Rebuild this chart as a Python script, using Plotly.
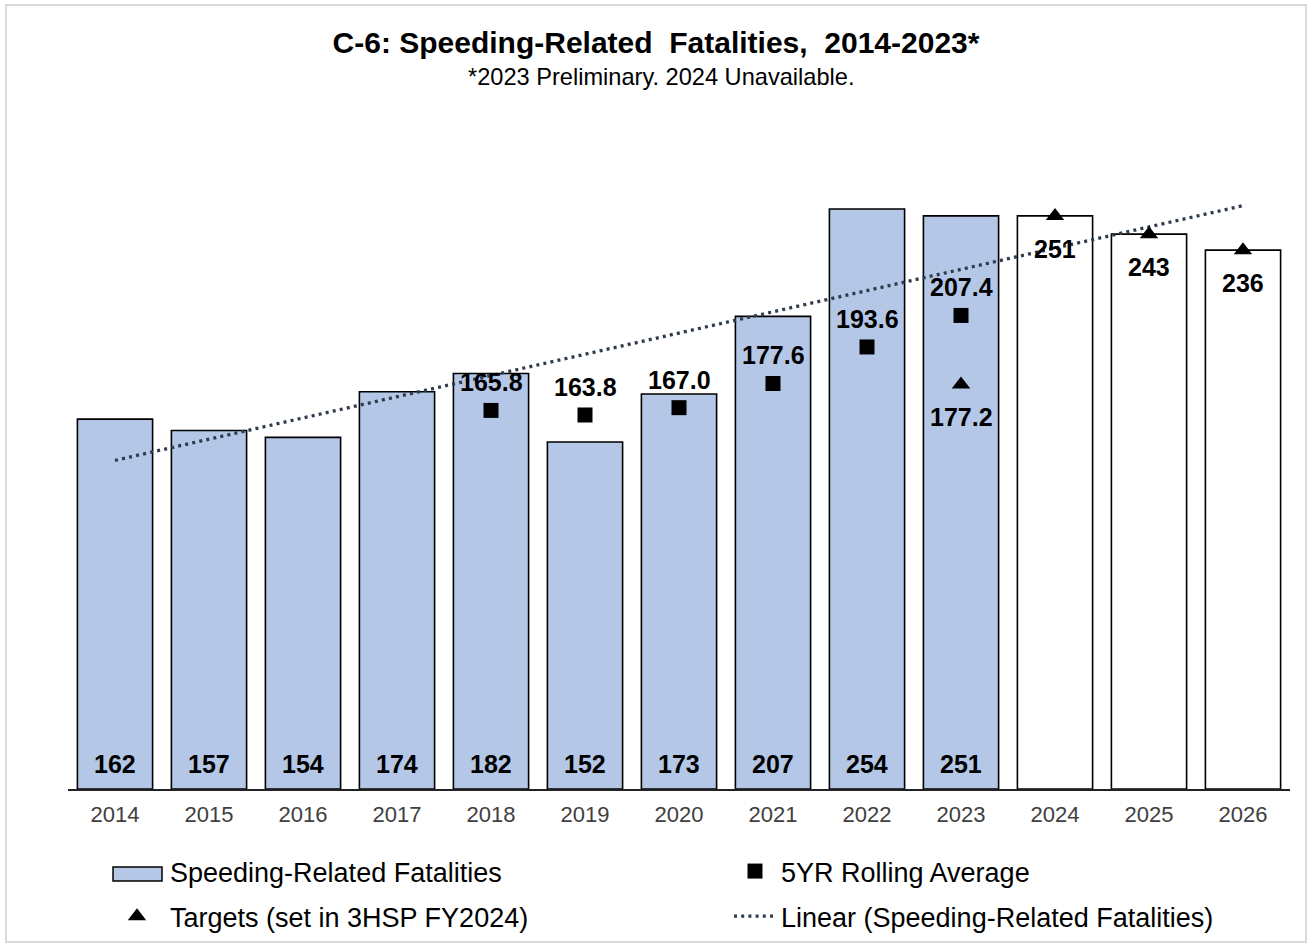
import numpy as np
import plotly.graph_objects as go

years = ["2014", "2015", "2016", "2017", "2018", "2019", "2020",
         "2021", "2022", "2023", "2024", "2025", "2026"]
fatalities = [162, 157, 154, 174, 182, 152, 173, 207, 254, 251, 251, 243, 236]
actual_count = 10  # 2014-2023 are actual values, 2024-2026 are target bars
avg_years = ["2018", "2019", "2020", "2021", "2022", "2023"]
rolling_avg = [165.8, 163.8, 167.0, 177.6, 193.6, 207.4]
target_years = ["2023", "2024", "2025", "2026"]
targets = [177.2, 251, 243, 236]

W, H = 1312, 945
L, R, T, B = 68, 22, 104, 156
PW, PH = W - L - R, H - T - B

BLUE = "#B4C7E7"
FONT = "Liberation Sans, Arial, sans-serif"


def px_x(x):
    return (x - L) / PW


def px_y(y):
    return (H - B - y) / PH


bar_colors = [BLUE] * actual_count + ["white"] * (len(years) - actual_count)

# linear trend over the bar series
xs = np.arange(len(years))
slope, intercept = np.polyfit(xs, np.array(fatalities, dtype=float), 1)
trend = slope * xs + intercept

fig = go.Figure()
fig.add_trace(go.Bar(
    x=years, y=fatalities, name="Speeding-Related Fatalities",
    marker=dict(color=bar_colors, line=dict(color="black", width=1.6)),
    width=0.8, hoverinfo="x+y", showlegend=False,
))
# legend entry for the bars (swatch drawn as a wide rectangle shape below)
fig.add_trace(go.Scatter(
    x=[None], y=[None], mode="markers", name="Speeding-Related Fatalities",
    marker=dict(color="rgba(0,0,0,0)", size=1),
    legend="legend", legendgroup="g1", legendrank=1,
))
fig.add_trace(go.Scatter(
    x=years, y=trend, mode="lines", name="Linear (Speeding-Related Fatalities)",
    line=dict(color="#2E3B4A", width=3.3, dash="3px,4.2px"),
    legend="legend2", legendgroup="g4", legendrank=2,
))
fig.add_trace(go.Scatter(
    x=avg_years, y=rolling_avg, mode="markers", name="5YR Rolling Average",
    marker=dict(symbol="square", size=15, color="black"),
    legend="legend2", legendgroup="g2", legendrank=1,
))
fig.add_trace(go.Scatter(
    x=target_years, y=targets, mode="markers", name="Targets (set in 3HSP FY2024)",
    marker=dict(symbol="triangle-up", size=16, color="black"),
    legend="legend", legendgroup="g3", legendrank=2,
))

idx = {y: i for i, y in enumerate(years)}
lab_font = dict(size=25, color="black", family=FONT)
ann = []
for yr, v in zip(years[:actual_count], fatalities[:actual_count]):
    ann.append(dict(x=idx[yr], y=0, text=f"<b>{v}</b>", showarrow=False,
                    yshift=25, font=lab_font))
for yr, v in zip(avg_years, rolling_avg):
    ann.append(dict(x=idx[yr], y=v, text=f"<b>{v:.1f}</b>", showarrow=False,
                    yshift=28, font=lab_font))
for yr, v in zip(target_years, targets):
    ann.append(dict(x=idx[yr], y=v, text=f"<b>{v:g}</b>", showarrow=False,
                    yshift=-33, font=lab_font))
ann.append(dict(xref="paper", yref="paper", x=px_x(661), xanchor="center",
                y=px_y(77), yanchor="middle",
                text="*2023 Preliminary. 2024 Unavailable.", showarrow=False,
                font=dict(size=23.6, color="black", family=FONT)))

leg_common = dict(orientation="v", xanchor="left", yanchor="top",
                  traceorder="grouped", tracegroupgap=7,
                  font=dict(size=27, color="black", family=FONT),
                  bgcolor="rgba(0,0,0,0)", borderwidth=0)

fig.update_layout(
    width=W, height=H,
    margin=dict(l=L, r=R, t=T, b=B, autoexpand=False),
    paper_bgcolor="white", plot_bgcolor="white",
    title=dict(text="<b>C-6: Speeding-Related&nbsp; Fatalities,&nbsp; 2014-2023*</b>",
               x=656 / W, xref="container", xanchor="center",
               y=1 - 42 / H, yref="container", yanchor="middle",
               font=dict(size=30, color="black", family=FONT)),
    xaxis=dict(type="category", range=[-0.5, len(years) - 0.5],
               showline=True, linecolor="#222222", linewidth=1.5,
               ticks="outside", ticklen=5, tickcolor="rgba(0,0,0,0)",
               showgrid=False, zeroline=False,
               tickfont=dict(size=22, color="#404040", family=FONT)),
    yaxis=dict(range=[0, 300], visible=False, showgrid=False, zeroline=False),
    showlegend=True,
    legend=dict(x=px_x(104), y=px_y(847), itemwidth=56, **leg_common),
    legend2=dict(x=px_x(729), y=px_y(847), itemwidth=42, **leg_common),
    annotations=ann,
    shapes=[
        dict(type="rect", xref="paper", yref="paper",
             x0=px_x(6), x1=px_x(1306), y0=px_y(942), y1=px_y(5),
             line=dict(color="#D9D9D9", width=2), layer="below"),
        dict(type="rect", xref="paper", yref="paper",
             x0=px_x(113), x1=px_x(162), y0=px_y(881), y1=px_y(867),
             fillcolor=BLUE, line=dict(color="black", width=1.5), layer="above"),
    ],
)

fig.write_html("out.html", config={"displayModeBar": False})

# remove the default page margin so the figure sits at the window's corner
with open("out.html", "r", encoding="utf-8") as f:
    html = f.read()
html = html.replace("<head>", "<head><style>html,body{margin:0;padding:0;}</style>", 1)
with open("out.html", "w", encoding="utf-8") as f:
    f.write(html)
